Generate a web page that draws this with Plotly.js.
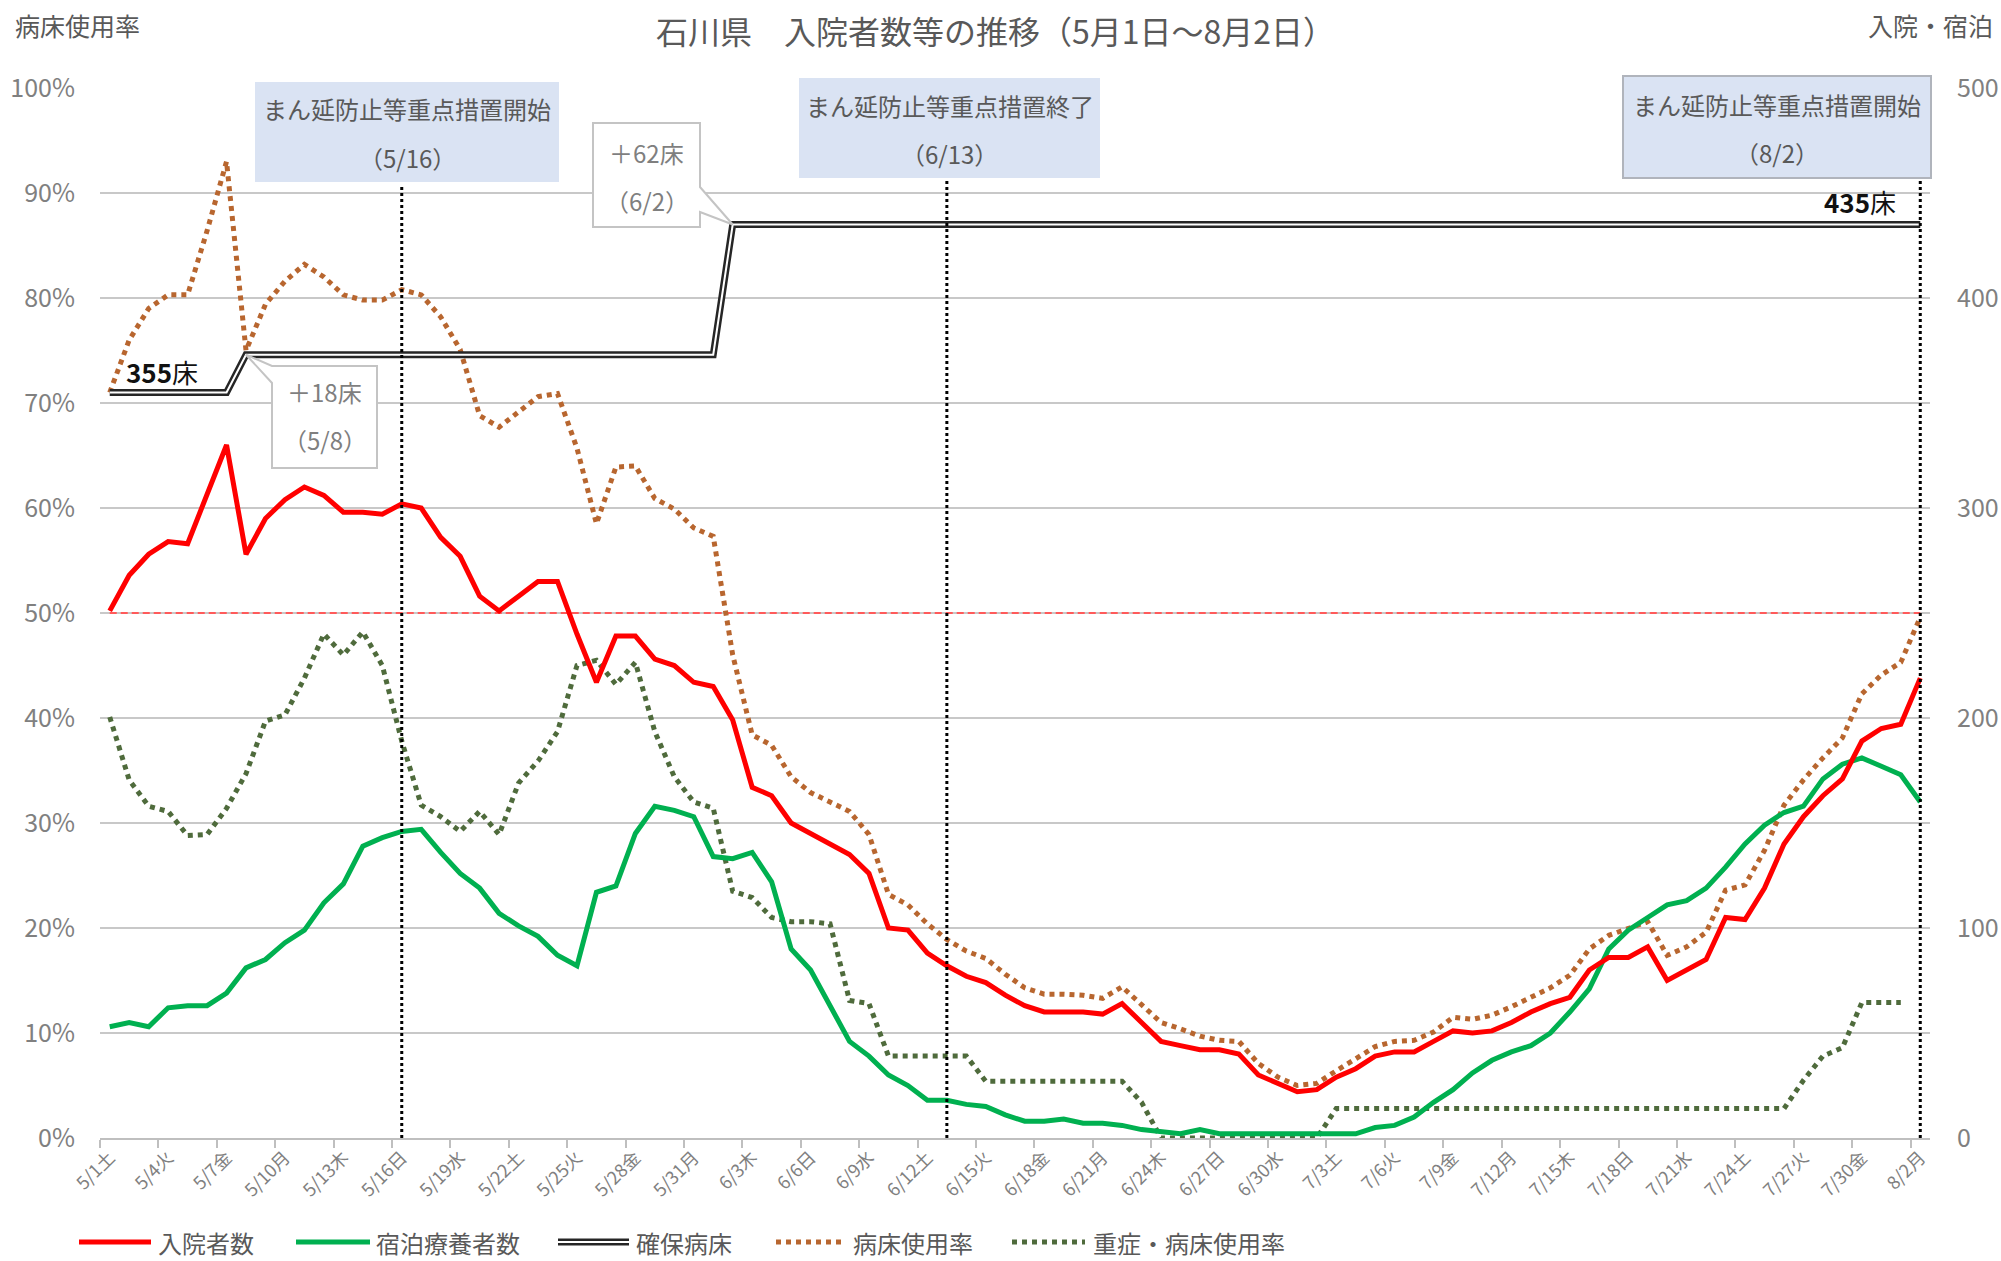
<!DOCTYPE html>
<html>
<head>
<meta charset="utf-8">
<script src="https://cdn.plot.ly/plotly-3.0.1.min.js"></script>
<style>html,body{margin:0;padding:0;background:#fff;}#chart{width:2001px;height:1261px;}</style>
</head>
<body>
<div id="chart"></div>
<script>
// ---------------- DATA ----------------
const tickLabels = ['5/1土','5/4火','5/7金','5/10月','5/13木','5/16日','5/19水','5/22土','5/25火','5/28金','5/31月','6/3木','6/6日','6/9水','6/12土','6/15火','6/18金','6/21月','6/24木','6/27日','6/30水','7/3土','7/6火','7/9金','7/12月','7/15木','7/18日','7/21水','7/24土','7/27火','7/30金','8/2月'];
const labelEvery = 3;

// 入院者数 (right axis)
const hospitalized = [251,268,278,284,283,307,330,278,295,304,310,306,298,298,297,302,300,286,277,258,251,258,265,265,240,217,239,239,228,225,217,215,199,167,163,150,145,140,135,126,100,99,88,82,77,74,68,63,60,60,60,59,64,55,46,44,42,42,40,30,26,22,23,29,33,39,41,41,46,51,50,51,55,60,64,67,80,86,86,91,75,80,85,105,104,119,140,153,163,171,189,195,197,219];
// 宿泊療養者数 (right axis)
const hotel = [53,55,53,62,63,63,69,81,85,93,99,112,121,139,143,146,147,136,126,119,107,101,96,87,82,117,120,145,158,156,153,134,133,136,122,90,80,63,46,39,30,25,18,18,16,15,11,8,8,9,7,7,6,4,3,2,4,2,2,2,2,2,2,2,2,5,6,10,17,23,31,37,41,44,50,60,71,90,99,105,111,113,119,129,140,149,155,158,171,178,181,177,173,160];
// 確保病床 (right axis)
const beds = [355,355,355,355,355,355,355,373,373,373,373,373,373,373,373,373,373,373,373,373,373,373,373,373,373,373,373,373,373,373,373,373,435,435,435,435,435,435,435,435,435,435,435,435,435,435,435,435,435,435,435,435,435,435,435,435,435,435,435,435,435,435,435,435,435,435,435,435,435,435,435,435,435,435,435,435,435,435,435,435,435,435,435,435,435,435,435,435,435,435,435,435,435,435];
// 病床使用率 (%) (left axis)
const occupancy = [71,76,79,80.3,80.3,86.4,93,75,79.4,81.6,83.2,82,80.3,79.8,79.8,80.8,80.3,78.2,75.1,68.8,67.7,69.1,70.6,70.9,65.7,58.5,63.9,64,60.9,59.9,58.1,57.3,46,38.4,37.4,34.4,32.9,32,31.1,28.9,23.2,22.2,20.4,18.9,17.8,17.1,15.6,14.3,13.7,13.7,13.6,13.3,14.4,12.7,11,10.4,9.7,9.3,9.2,7.1,5.8,5,5.2,6.4,7.5,8.7,9.2,9.3,10.1,11.5,11.3,11.7,12.5,13.4,14.3,15.5,18,19.3,20,20.6,17.4,18.2,19.6,23.6,24.1,27.4,31.7,34.1,36.2,38.1,42.3,44.1,45.3,49.6];
// 重症・病床使用率 (%) (left axis)
const severe = [40.1,34.1,31.6,31.1,28.8,28.9,31.4,34.7,39.7,40.3,43.8,48,46,48.2,45,37.8,31.7,30.6,29.2,31.1,28.9,33.8,35.9,38.7,45,45.5,43.2,45.3,38.7,34.4,32,31.4,23.5,22.9,21,20.6,20.6,20.4,13.1,12.8,7.8,7.8,7.8,7.8,7.8,5.4,5.4,5.4,5.4,5.4,5.4,5.4,5.4,3.4,0,0,0,0,0,0,0,0,0,2.8,2.8,2.8,2.8,2.8,2.8,2.8,2.8,2.8,2.8,2.8,2.8,2.8,2.8,2.8,2.8,2.8,2.8,2.8,2.8,2.8,2.8,2.8,2.8,5.5,7.8,8.6,12.9,12.9,12.9];

const threshold = 50; // 50% line

const seriesNames = ['入院者数','宿泊療養者数','確保病床','病床使用率','重症・病床使用率'];

// measure events: index of day, label text
const events = [
  {idx: 15, line1: 'まん延防止等重点措置開始', line2: '（5/16）'},
  {idx: 43, line1: 'まん延防止等重点措置終了', line2: '（6/13）'},
  {idx: 93, line1: 'まん延防止等重点措置開始', line2: '（8/2）'}
];
const bedChanges = [
  {idx: 7, text1: '＋18床', text2: '（5/8）'},
  {idx: 32, text1: '＋62床', text2: '（6/2）'}
];

// ---------------- LAYOUT GEOMETRY (pixels) ----------------
const W = 2001, H = 1261;
const L = 100, R = 1930, T = 88, B = 1138;
const N = hospitalized.length;
const px = x => (x - L) / (R - L);
const py = y => (B - y) / (B - T);
const xPix = i => L + (i + 0.5) * (R - L) / N;
const yPix2 = v => B - v * (B - T) / 500;

const FONT = '"Noto Sans CJK JP", "Noto Sans", sans-serif';
const idx = hospitalized.map((_, i) => i);

const C = {
  red: '#ff0000', green: '#00b050', orange: '#b8662f', olive: '#4f6b3c',
  grid: '#c8c8c8', tick: '#808080', text: '#595959', box: '#dae3f3'
};

// ---------------- TRACES ----------------
const traces = [
  {x: [idx[0], idx[N-1]], y: [threshold, threshold], yaxis: 'y', mode: 'lines',
   line: {color: '#ff5a5a', width: 2, dash: '7px,4px'}, hoverinfo: 'skip', showlegend: false},
  {x: idx, y: beds, yaxis: 'y2', mode: 'lines', name: seriesNames[2],
   line: {color: '#262626', width: 7}, showlegend: false},
  {x: idx, y: beds, yaxis: 'y2', mode: 'lines', hoverinfo: 'skip',
   line: {color: '#ffffff', width: 2}, showlegend: false},
  {x: idx, y: severe, yaxis: 'y', mode: 'lines', name: seriesNames[4],
   line: {color: C.olive, width: 5, dash: '5px,5px'}, showlegend: false},
  {x: idx, y: hotel, yaxis: 'y2', mode: 'lines', name: seriesNames[1],
   line: {color: C.green, width: 5}, showlegend: false},
  {x: idx, y: hospitalized, yaxis: 'y2', mode: 'lines', name: seriesNames[0],
   line: {color: C.red, width: 5}, showlegend: false},
  {x: idx, y: occupancy, yaxis: 'y', mode: 'lines', name: seriesNames[3],
   line: {color: C.orange, width: 5, dash: '5px,5px'}, showlegend: false}
];

// ---------------- SHAPES & ANNOTATIONS ----------------
const shapes = [];
const annotations = [];

// title (kept fully inside the page)
annotations.push({xref: 'paper', yref: 'paper', x: px(995), y: py(30), xanchor: 'center', yanchor: 'middle',
  text: '石川県　入院者数等の推移（5月1日～8月2日）', showarrow: false,
  font: {family: FONT, size: 32, color: C.text}});
// axis titles
annotations.push({xref: 'paper', yref: 'paper', x: px(13), y: py(25), xanchor: 'left', yanchor: 'middle',
  text: '病床使用率', showarrow: false, font: {family: FONT, size: 25, color: C.text}});
annotations.push({xref: 'paper', yref: 'paper', x: px(1995), y: py(25), xanchor: 'right', yanchor: 'middle',
  text: '入院・宿泊', showarrow: false, font: {family: FONT, size: 25, color: C.text}});

// bed labels
annotations.push({xref: 'paper', yref: 'paper', x: px(124), y: py(372), xanchor: 'left', yanchor: 'middle',
  text: '<b>' + beds[0] + '</b>床', showarrow: false, font: {family: FONT, size: 26, color: '#111'}});
annotations.push({xref: 'paper', yref: 'paper', x: px(1822), y: py(202), xanchor: 'left', yanchor: 'middle',
  text: '<b>' + beds[N-1] + '</b>床', showarrow: false, font: {family: FONT, size: 26, color: '#111'}});

// event boxes
const boxGeom = [
  {x0: 255, x1: 559, y0: 82, y1: 182, t1: 108, t2: 157, border: false},
  {x0: 799, x1: 1100, y0: 78, y1: 178, t1: 105, t2: 153, border: false},
  {x0: 1623, x1: 1931, y0: 76, y1: 178, t1: 104, t2: 152, border: true}
];
events.forEach((ev, k) => {
  const g = boxGeom[k];
  shapes.push({type: 'rect', xref: 'paper', yref: 'paper', x0: px(g.x0), x1: px(g.x1), y0: py(g.y1), y1: py(g.y0),
    fillcolor: C.box, line: {color: g.border ? '#b0b4bc' : C.box, width: g.border ? 2 : 0}, layer: 'above'});
  const cx = px((g.x0 + g.x1) / 2);
  annotations.push({xref: 'paper', yref: 'paper', x: cx, y: py(g.t1), xanchor: 'center', yanchor: 'middle',
    text: ev.line1, showarrow: false, font: {family: FONT, size: 24, color: C.text}});
  annotations.push({xref: 'paper', yref: 'paper', x: cx, y: py(g.t2), xanchor: 'center', yanchor: 'middle',
    text: ev.line2, showarrow: false, font: {family: FONT, size: 24, color: C.text}});
  shapes.push({type: 'line', xref: 'x', yref: 'paper', x0: ev.idx, x1: ev.idx, y0: 0, y1: py(g.y1 + 2),
    line: {color: '#000', width: 3, dash: '3px,3px'}, layer: 'above'});
});

// callouts
const P = (x, y) => px(x).toFixed(5) + ',' + py(y).toFixed(5);
{
  const c = bedChanges[0];
  const tx = xPix(c.idx), ty = yPix2(beds[c.idx]);
  const bx0 = 272, bx1 = 377, by0 = 366, by1 = 468;
  shapes.push({type: 'path', xref: 'paper', yref: 'paper', layer: 'above',
    path: 'M' + P(bx0, by0) + ' L' + P(bx1, by0) + ' L' + P(bx1, by1) + ' L' + P(bx0, by1) +
          ' L' + P(bx0, by0 + 17) + ' L' + P(tx, ty) + ' Z',
    fillcolor: '#ffffff', line: {color: '#c4c4c4', width: 2}});
  annotations.push({xref: 'paper', yref: 'paper', x: px((bx0 + bx1) / 2), y: py(391), xanchor: 'center', yanchor: 'middle',
    text: c.text1, showarrow: false, font: {family: FONT, size: 24, color: '#7f7f7f'}});
  annotations.push({xref: 'paper', yref: 'paper', x: px((bx0 + bx1) / 2), y: py(439), xanchor: 'center', yanchor: 'middle',
    text: c.text2, showarrow: false, font: {family: FONT, size: 24, color: '#7f7f7f'}});
}
{
  const c = bedChanges[1];
  const tx = xPix(c.idx), ty = yPix2(beds[c.idx]);
  const bx0 = 593, bx1 = 700, by0 = 123, by1 = 227;
  shapes.push({type: 'path', xref: 'paper', yref: 'paper', layer: 'above',
    path: 'M' + P(bx0, by0) + ' L' + P(bx1, by0) + ' L' + P(bx1, 187) + ' L' + P(tx, ty) +
          ' L' + P(bx1, 212) + ' L' + P(bx1, by1) + ' L' + P(bx0, by1) + ' Z',
    fillcolor: '#ffffff', line: {color: '#c4c4c4', width: 2}});
  annotations.push({xref: 'paper', yref: 'paper', x: px((bx0 + bx1) / 2), y: py(152), xanchor: 'center', yanchor: 'middle',
    text: c.text1, showarrow: false, font: {family: FONT, size: 24, color: '#7f7f7f'}});
  annotations.push({xref: 'paper', yref: 'paper', x: px((bx0 + bx1) / 2), y: py(200), xanchor: 'center', yanchor: 'middle',
    text: c.text2, showarrow: false, font: {family: FONT, size: 24, color: '#7f7f7f'}});
}

// legend (manual)
const LY = 1242;
const legendItems = [
  {x0: 79, x1: 151, tx: 156, color: C.red, dash: 'solid', name: seriesNames[0]},
  {x0: 296, x1: 370, tx: 374, color: C.green, dash: 'solid', name: seriesNames[1]},
  {x0: 558, x1: 629, tx: 634, color: '#262626', dash: 'solid', name: seriesNames[2], dbl: true},
  {x0: 776, x1: 845, tx: 851, color: C.orange, dash: '5px,5px', name: seriesNames[3]},
  {x0: 1012, x1: 1085, tx: 1091, color: C.olive, dash: '5px,5px', name: seriesNames[4]}
];
legendItems.forEach(it => {
  shapes.push({type: 'line', xref: 'paper', yref: 'paper', x0: px(it.x0), x1: px(it.x1), y0: py(LY), y1: py(LY),
    line: {color: it.color, width: it.dbl ? 7 : 5, dash: it.dash}});
  if (it.dbl) shapes.push({type: 'line', xref: 'paper', yref: 'paper', x0: px(it.x0), x1: px(it.x1), y0: py(LY), y1: py(LY),
    line: {color: '#ffffff', width: 2}});
  annotations.push({xref: 'paper', yref: 'paper', x: px(it.tx), y: py(LY), xanchor: 'left', yanchor: 'middle',
    text: it.name, showarrow: false, font: {family: FONT, size: 24, color: C.text}});
});

// ---------------- LAYOUT ----------------
const layout = {
  width: W, height: H,
  margin: {l: L, r: W - R, t: T, b: H - B, pad: 0},
  paper_bgcolor: '#ffffff', plot_bgcolor: '#ffffff',
  font: {family: FONT, color: C.tick},
  showlegend: false,
  xaxis: {
    type: 'linear', range: [-0.5, N - 0.5], fixedrange: true,
    tickmode: 'array', tickvals: tickLabels.map((_, k) => k * labelEvery), ticktext: tickLabels,
    tickangle: -45, tickfont: {family: FONT, size: 18, color: C.tick},
    ticks: '', showgrid: false, zeroline: false,
    showline: true, linecolor: '#bfbfbf', linewidth: 2,
    minor: {tickmode: 'linear', tick0: 2.5, dtick: labelEvery, ticks: 'outside', ticklen: 8, tickwidth: 2, tickcolor: '#bfbfbf', showgrid: false}
  },
  yaxis: {
    range: [0, 100], dtick: 10, ticksuffix: '%', fixedrange: true,
    showgrid: true, gridcolor: C.grid, gridwidth: 2, zeroline: false,
    tickfont: {family: FONT, size: 25, color: C.tick}, ticks: '', ticklabelstandoff: 24
  },
  yaxis2: {
    range: [0, 500], dtick: 100, overlaying: 'y', side: 'right', fixedrange: true,
    showgrid: false, zeroline: false,
    tickfont: {family: FONT, size: 25, color: C.tick}, ticks: '', ticklabelstandoff: 26
  },
  shapes: shapes,
  annotations: annotations
};

Plotly.newPlot('chart', traces, layout, {displayModeBar: false, staticPlot: true});
</script>
</body>
</html>
